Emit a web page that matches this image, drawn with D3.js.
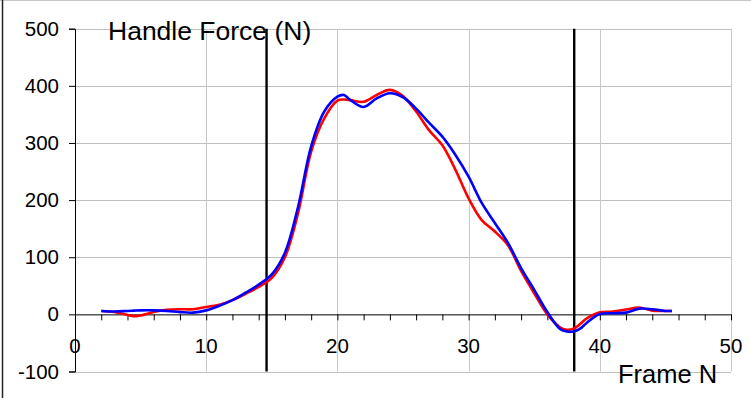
<!DOCTYPE html>
<html><head><meta charset="utf-8">
<script src="https://cdn.jsdelivr.net/npm/d3@7"></script>
<style>body{margin:0;background:#fff}svg{display:block}text{font-family:"Liberation Sans",Arial,sans-serif;fill:#000}</style>
</head><body><svg id="c" width="751" height="398"></svg>
<script>
const frames = [2,3,4,4.5,5,6,7,8,9,10,11,12,13,14,15,16,17,18,19,20,20.5,21,22,23,24,25,26,27,28,29,30,31,32,33,34,35,36,37,37.5,38,38.5,39,40,41,42,43,44,45,45.5];
const redForce = [6,4,-1,-3,-2,4,8,9,9,13,17,25,36,48,64,100,177,285,343,374,376,375,372,384,393,382,355,322,296,253,203,165,145,121,76,37,0,-23,-27,-25,-17,-7,3.5,5,8.5,12,6.5,6,6];
const blueForce = [6,5,6,6.5,7,7,6,4,3,7,15,25,38,52,70,108,188,294,355,381,384,375,363,378,387,380,360,335,311,279,241,195,160,125,81,43,4,-26,-30,-30,-25,-15,0.5,2,3,10,9,6,6];
const markers = [14.6, 38.05];
const xTicksMajor = [0,10,20,30,40,50];
const yTicks = [-100,0,100,200,300,400,500];
const title = "Handle Force (N)";
const xTitle = "Frame N";

const svg = d3.select("#c");
const x = d3.scaleLinear().domain([0,50]).range([75,731]);
const y = d3.scaleLinear().domain([-100,500]).range([371.5,28.7]);

// outer frame
svg.append("line").attr("x1",0).attr("x2",751).attr("y1",0.5).attr("y2",0.5).attr("stroke","#c8c8c8");
svg.append("line").attr("x1",2.5).attr("x2",2.5).attr("y1",0).attr("y2",398).attr("stroke","#222").attr("stroke-width",1.5);

// grid
const g = svg.append("g");
g.selectAll(".hg").data(yTicks.filter(d=>d!==0)).join("line")
  .attr("x1",x(0)).attr("x2",x(50)).attr("y1",d=>Math.round(y(d))+0.5).attr("y2",d=>Math.round(y(d))+0.5)
  .attr("stroke","#c0c0c0").attr("stroke-width",1);
g.selectAll(".vg").data(xTicksMajor.filter(d=>d!==0)).join("line")
  .attr("x1",d=>Math.round(x(d))+0.5).attr("x2",d=>Math.round(x(d))+0.5).attr("y1",y(500)).attr("y2",y(-100))
  .attr("stroke","#c8c8c8").attr("stroke-width",1);

// y axis
const yAxis = d3.axisLeft(y).tickValues(yTicks).tickSize(6).tickPadding(10).tickFormat(d=>String(d));
const ya = svg.append("g").attr("transform",`translate(${x(0)},0)`).call(yAxis);
ya.select(".domain").attr("stroke","#000");
ya.selectAll(".tick line").attr("stroke","#000");
ya.selectAll(".tick text").attr("font-size",20.5).attr("font-family","Liberation Sans, Arial, sans-serif").attr("fill","#000");

// x axis at y=0
const xAxis = d3.axisBottom(x).tickValues(d3.range(0,51,2)).tickSize(6).tickFormat("");
const xa = svg.append("g").attr("transform",`translate(0,${y(0)})`).call(xAxis);
xa.select(".domain").attr("stroke","#000").attr("d",`M${x(0)},0.5H${x(50)}`);
xa.selectAll(".tick line").attr("stroke","#000");
svg.selectAll(".xl").data(xTicksMajor).join("text")
  .attr("x",d=>x(d)).attr("y",352.5).attr("text-anchor","middle").attr("font-size",20.5).text(d=>d);

// marker lines
svg.selectAll(".mk").data(markers).join("line")
  .attr("x1",d=>x(d)).attr("x2",d=>x(d)).attr("y1",y(500)).attr("y2",y(-100))
  .attr("stroke","#000").attr("stroke-width",2.4);

// curves
const line = d3.line().x((d,i)=>x(frames[i])).y(d=>y(d)).curve(d3.curveCatmullRom.alpha(0.5));
svg.append("path").attr("d",line(redForce)).attr("fill","none").attr("stroke","#ff0000").attr("stroke-width",2.6);
svg.append("path").attr("d",line(blueForce)).attr("fill","none").attr("stroke","#0000ff").attr("stroke-width",2.6);

// titles
svg.append("text").attr("x",108).attr("y",39.5).attr("font-size",26.5).text(title);
svg.append("text").attr("x",618).attr("y",382.5).attr("font-size",25.5).text(xTitle);
</script></body></html>
